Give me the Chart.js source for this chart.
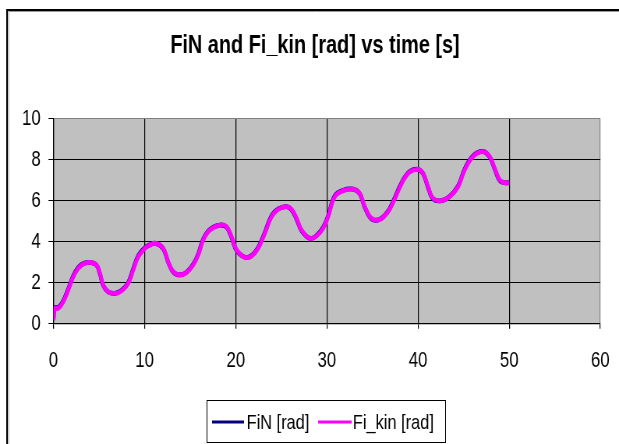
<!DOCTYPE html>
<html>
<head>
<meta charset="utf-8">
<script src="https://cdn.jsdelivr.net/npm/chart.js@4"></script>
<style>
  html, body { margin: 0; padding: 0; background: #fff; overflow: hidden; }
  /* the chart is laid out wide and narrowed horizontally, giving condensed lettering */
  #stage { position: absolute; left: 0; top: 0; width: 801px; height: 444px;
           transform: scaleX(0.7796); transform-origin: 0 0; }
</style>
</head>
<body>
<div id="stage"><canvas id="c"></canvas></div>
<script>
// time [s]
const time = [0, 0.16, 0.53, 1.07, 1.62, 2.17, 2.72, 3.27, 4.0, 4.74,
  5.1, 5.46, 6.0, 6.74, 7.48, 8.2, 8.75, 9.3, 10.03, 10.58,
  11.24, 12.04, 12.59, 13.14, 13.87, 14.6, 15.33, 15.88, 16.43, 17.16,
  18.26, 18.99, 19.54, 20.09, 21.0, 21.73, 22.46, 23.19, 23.93, 24.65,
  25.57, 26.12, 26.67, 27.21, 28.13, 28.86, 29.58, 30.13, 30.87, 31.78,
  32.87, 33.6, 34.16, 34.89, 35.8, 36.71, 37.3, 38.0, 38.5, 39.09,
  40.0, 40.55, 41.1, 41.64, 42.57, 43.48, 44.39, 45.12, 46.03, 47.13,
  47.86, 48.41, 48.96, 49.5, 50.0];

// FiN [rad]
const fiN = [0.20, 0.78, 0.79, 1.12, 1.70, 2.34, 2.74, 2.93, 2.99, 2.84,
  2.42, 1.86, 1.55, 1.48, 1.63, 2.01, 2.68, 3.32, 3.71, 3.85,
  3.92, 3.66, 2.99, 2.52, 2.38, 2.51, 2.90, 3.40, 4.13, 4.60,
  4.81, 4.71, 4.20, 3.57, 3.24, 3.32, 3.72, 4.46, 5.27, 5.60,
  5.71, 5.56, 5.10, 4.54, 4.16, 4.30, 4.69, 5.27, 6.24, 6.51,
  6.56, 6.34, 5.67, 5.11, 5.09, 5.49, 6.00, 6.70, 7.12, 7.43,
  7.53, 7.32, 6.64, 6.09, 6.00, 6.22, 6.72, 7.55, 8.19, 8.40,
  8.13, 7.54, 6.98, 6.88, 6.88];

// Fi_kin [rad]
const fiKin = [0.18, 0.75, 0.75, 1.07, 1.64, 2.29, 2.70, 2.91, 2.99, 2.86,
  2.46, 1.89, 1.56, 1.48, 1.61, 1.97, 2.62, 3.27, 3.68, 3.84,
  3.92, 3.68, 3.02, 2.54, 2.38, 2.49, 2.86, 3.35, 4.08, 4.57,
  4.81, 4.73, 4.24, 3.60, 3.24, 3.30, 3.68, 4.41, 5.22, 5.58,
  5.71, 5.58, 5.14, 4.57, 4.16, 4.28, 4.65, 5.22, 6.20, 6.49,
  6.56, 6.36, 5.71, 5.14, 5.09, 5.46, 5.95, 6.65, 7.08, 7.41,
  7.53, 7.34, 6.68, 6.12, 6.00, 6.20, 6.68, 7.50, 8.15, 8.39,
  8.15, 7.58, 7.01, 6.88, 6.88];

const seriesNames = ['FiN [rad]', 'Fi_kin [rad]'];
const titleText = 'FiN and Fi_kin [rad] vs time [s]';
const xTicks = [0, 10, 20, 30, 40, 50, 60];
const yTicks = [0, 2, 4, 6, 8, 10];

const FONT = '"Liberation Sans", Arial, Helvetica, sans-serif';

const toPoints = (xs, ys) => xs.map((x, i) => ({ x: x, y: ys[i] }));

// grey plot area, outer frame, title and boxed legend
const decor = {
  id: 'decor',
  beforeDraw(chart) {
    const { ctx, chartArea: a } = chart;
    ctx.save();
    ctx.fillStyle = '#c0c0c0';
    ctx.fillRect(a.left, a.top, a.right - a.left, a.bottom - a.top);
    ctx.restore();
  },
  afterDraw(chart) {
    const ctx = chart.ctx;
    ctx.save();
    // outer frame
    ctx.strokeStyle = '#000';
    ctx.lineWidth = 2;
    ctx.beginPath();
    ctx.moveTo(9, 460);
    ctx.lineTo(9, 10);
    ctx.lineTo(820, 10);
    ctx.stroke();
    ctx.strokeStyle = '#9a9a9a';
    ctx.lineWidth = 1;
    ctx.beginPath();
    ctx.moveTo(11, 460);
    ctx.lineTo(11, 11.5);
    ctx.lineTo(820, 11.5);
    ctx.stroke();

    // title
    ctx.fillStyle = '#000';
    ctx.font = 'bold 25.5px ' + FONT;
    ctx.textAlign = 'center';
    ctx.textBaseline = 'alphabetic';
    ctx.fillText(titleText, 404, 53);

    // legend
    ctx.fillStyle = '#fff';
    ctx.fillRect(265.5, 400.5, 306, 42);
    ctx.strokeStyle = '#000';
    ctx.lineWidth = 1;
    ctx.strokeRect(265.5, 400.5, 306, 42);
    const ds = chart.data.datasets;
    const items = [
      { d: ds[0], x0: 272, x1: 313, tx: 316.3 },
      { d: ds[1], x0: 408, x1: 451, tx: 452.6 }
    ];
    ctx.font = '21px ' + FONT;
    ctx.textAlign = 'left';
    ctx.textBaseline = 'middle';
    items.forEach(it => {
      ctx.strokeStyle = it.d.borderColor;
      ctx.lineWidth = 3;
      ctx.beginPath();
      ctx.moveTo(it.x0, 422);
      ctx.lineTo(it.x1, 422);
      ctx.stroke();
      ctx.fillStyle = '#000';
      ctx.fillText(it.d.label, it.tx, 423);
    });
    ctx.restore();
  }
};

new Chart(document.getElementById('c'), {
  type: 'line',
  data: {
    datasets: [
      {
        label: seriesNames[0],
        data: toPoints(time, fiN),
        borderColor: '#000080',
        borderWidth: 4.8,
        pointRadius: 0,
        fill: false,
        tension: 0.4,
        order: 2
      },
      {
        label: seriesNames[1],
        data: toPoints(time, fiKin),
        borderColor: '#ff00ff',
        borderWidth: 4.8,
        pointRadius: 0,
        fill: false,
        tension: 0.4,
        order: 1
      }
    ]
  },
  options: {
    responsive: true,
    maintainAspectRatio: false,
    animation: false,
    devicePixelRatio: 1,
    layout: { padding: { left: 0, right: 0, top: 118.7, bottom: 60.3 } },
    plugins: {
      legend: { display: false },
      title: { display: false },
      tooltip: { enabled: false }
    },
    scales: {
      x: {
        type: 'linear',
        min: xTicks[0],
        max: xTicks[xTicks.length - 1],
        afterBuildTicks(s) { s.ticks = xTicks.map(v => ({ value: v })); },
        afterFit(s) { s.height = 60; },
        ticks: {
          color: '#000',
          padding: 19,
          maxRotation: 0,
          font: { family: FONT, size: 21.5 }
        },
        grid: {
          color: c => (c.tick && c.tick.value === 60) ? '#808080' : '#000',
          tickColor: '#000',
          lineWidth: 1.2,
          tickLength: 5
        },
        border: { color: '#000', width: 1.2 }
      },
      y: {
        type: 'linear',
        min: yTicks[0],
        max: yTicks[yTicks.length - 1],
        afterBuildTicks(s) { s.ticks = yTicks.map(v => ({ value: v })); },
        afterFit(s) { s.width = 68.6; },
        ticks: {
          color: '#000',
          padding: 10,
          font: { family: FONT, size: 21.5 }
        },
        grid: {
          color: c => (c.tick && c.tick.value === 10) ? '#808080' : '#000',
          tickColor: '#000',
          lineWidth: 1,
          tickLength: 6.4
        },
        border: { color: '#000', width: 1.2 }
      }
    }
  },
  plugins: [decor]
});
</script>
</body>
</html>
